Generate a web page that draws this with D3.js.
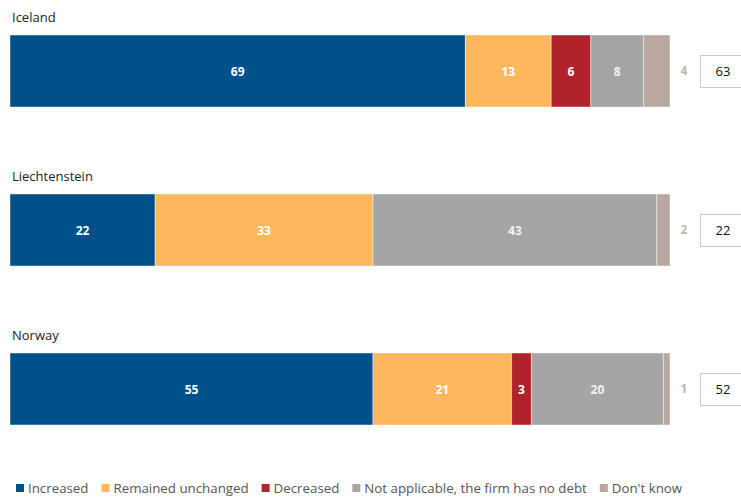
<!DOCTYPE html>
<html>
<head>
<meta charset="utf-8">
<script src="https://cdn.jsdelivr.net/npm/d3@7"></script>
<style>
  body { margin: 0; background: #fff; }
  text { font-family: "Open Sans", "Noto Sans", sans-serif; }
</style>
</head>
<body>
<div id="chart"></div>
<script>
const countries = ["Iceland", "Liechtenstein", "Norway"];
const categories = ["Increased", "Remained unchanged", "Decreased", "Not applicable, the firm has no debt", "Don't know"];
const increased = [69, 22, 55];
const unchanged = [13, 33, 21];
const decreased = [6, 0, 3];
const notApplicable = [8, 43, 20];
const dontKnow = [4, 2, 1];
const totals = [63, 22, 52];
const colors = ["#00508a", "#ffb75e", "#b1232a", "#a5a5a5", "#b8a8a0"];

const series = [increased, unchanged, decreased, notApplicable, dontKnow];

const width = 741, height = 499;
const svg = d3.select("#chart").append("svg")
  .attr("width", width)
  .attr("height", height);

const x = d3.scaleLinear().domain([0, 100]).range([10, 670]);
const y = d3.scaleBand().domain(countries).range([35, 425]).paddingInner(0.547).paddingOuter(0);

const data = countries.map((c, i) => {
  const row = { country: c };
  categories.forEach((k, j) => row[k] = series[j][i]);
  return row;
});
const stacked = d3.stack().keys(categories)(data);

// country titles
svg.append("g").selectAll("text")
  .data(countries)
  .join("text")
    .attr("x", 12)
    .attr("y", d => y(d) - 13)
    .attr("font-size", 13)
    .attr("fill", "#222")
    .text(d => d);

// bars
const layer = svg.append("g").selectAll("g")
  .data(stacked)
  .join("g")
    .attr("fill", (d, i) => colors[i]);

layer.selectAll("rect")
  .data(d => d)
  .join("rect")
    .attr("x", d => x(d[0]))
    .attr("y", d => y(d.data.country))
    .attr("width", d => x(d[1]) - x(d[0]))
    .attr("height", y.bandwidth())
    .attr("stroke", "#fff")
    .attr("stroke-opacity", 0.45)
    .attr("stroke-width", 1);

// value labels inside bars (all but last category)
stacked.slice(0, 4).forEach(s => {
  svg.append("g").selectAll("text")
    .data(s.filter(d => d[1] - d[0] > 0))
    .join("text")
      .attr("x", d => (x(d[0]) + x(d[1])) / 2)
      .attr("y", d => y(d.data.country) + y.bandwidth() / 2 + 5)
      .attr("text-anchor", "middle")
      .attr("font-size", 12)
      .attr("font-weight", "bold")
      .attr("fill", s.key === "Not applicable, the firm has no debt" ? "#f2f2f2" : "#fff")
      .text(d => d[1] - d[0]);
});

// don't know labels outside
svg.append("g").selectAll("text")
  .data(stacked[4])
  .join("text")
    .attr("x", x(100) + 14)
    .attr("y", d => y(d.data.country) + y.bandwidth() / 2 + 4)
    .attr("text-anchor", "middle")
    .attr("font-size", 12)
    .attr("font-weight", "bold")
    .attr("fill", "#c4b6ad")
    .text(d => d[1] - d[0]);

// totals boxes
const box = svg.append("g").selectAll("g")
  .data(countries)
  .join("g")
    .attr("transform", d => `translate(700, ${y(d) + y.bandwidth() / 2 - 16})`);
box.append("rect")
  .attr("x", 0.5).attr("y", 0.5)
  .attr("width", 46).attr("height", 32)
  .attr("fill", "#fff")
  .attr("stroke", "#c8c8c8");
box.append("text")
  .attr("x", 23)
  .attr("y", 21)
  .attr("text-anchor", "middle")
  .attr("font-size", 13)
  .attr("fill", "#111")
  .text((d, i) => totals[i]);

// legend
const legend = svg.append("g").attr("transform", "translate(16, 493)");
let lx = 0;
categories.forEach((c, i) => {
  const g = legend.append("g").attr("transform", `translate(${lx}, 0)`);
  g.append("rect")
    .attr("x", 0).attr("y", -9)
    .attr("width", 8).attr("height", 8)
    .attr("fill", colors[i]);
  const t = g.append("text")
    .attr("x", 12)
    .attr("y", 0)
    .attr("font-size", 13.3)
    .attr("fill", "#555")
    .text(c);
  lx += 12 + t.node().getComputedTextLength() + 13;
});
</script>
</body>
</html>
